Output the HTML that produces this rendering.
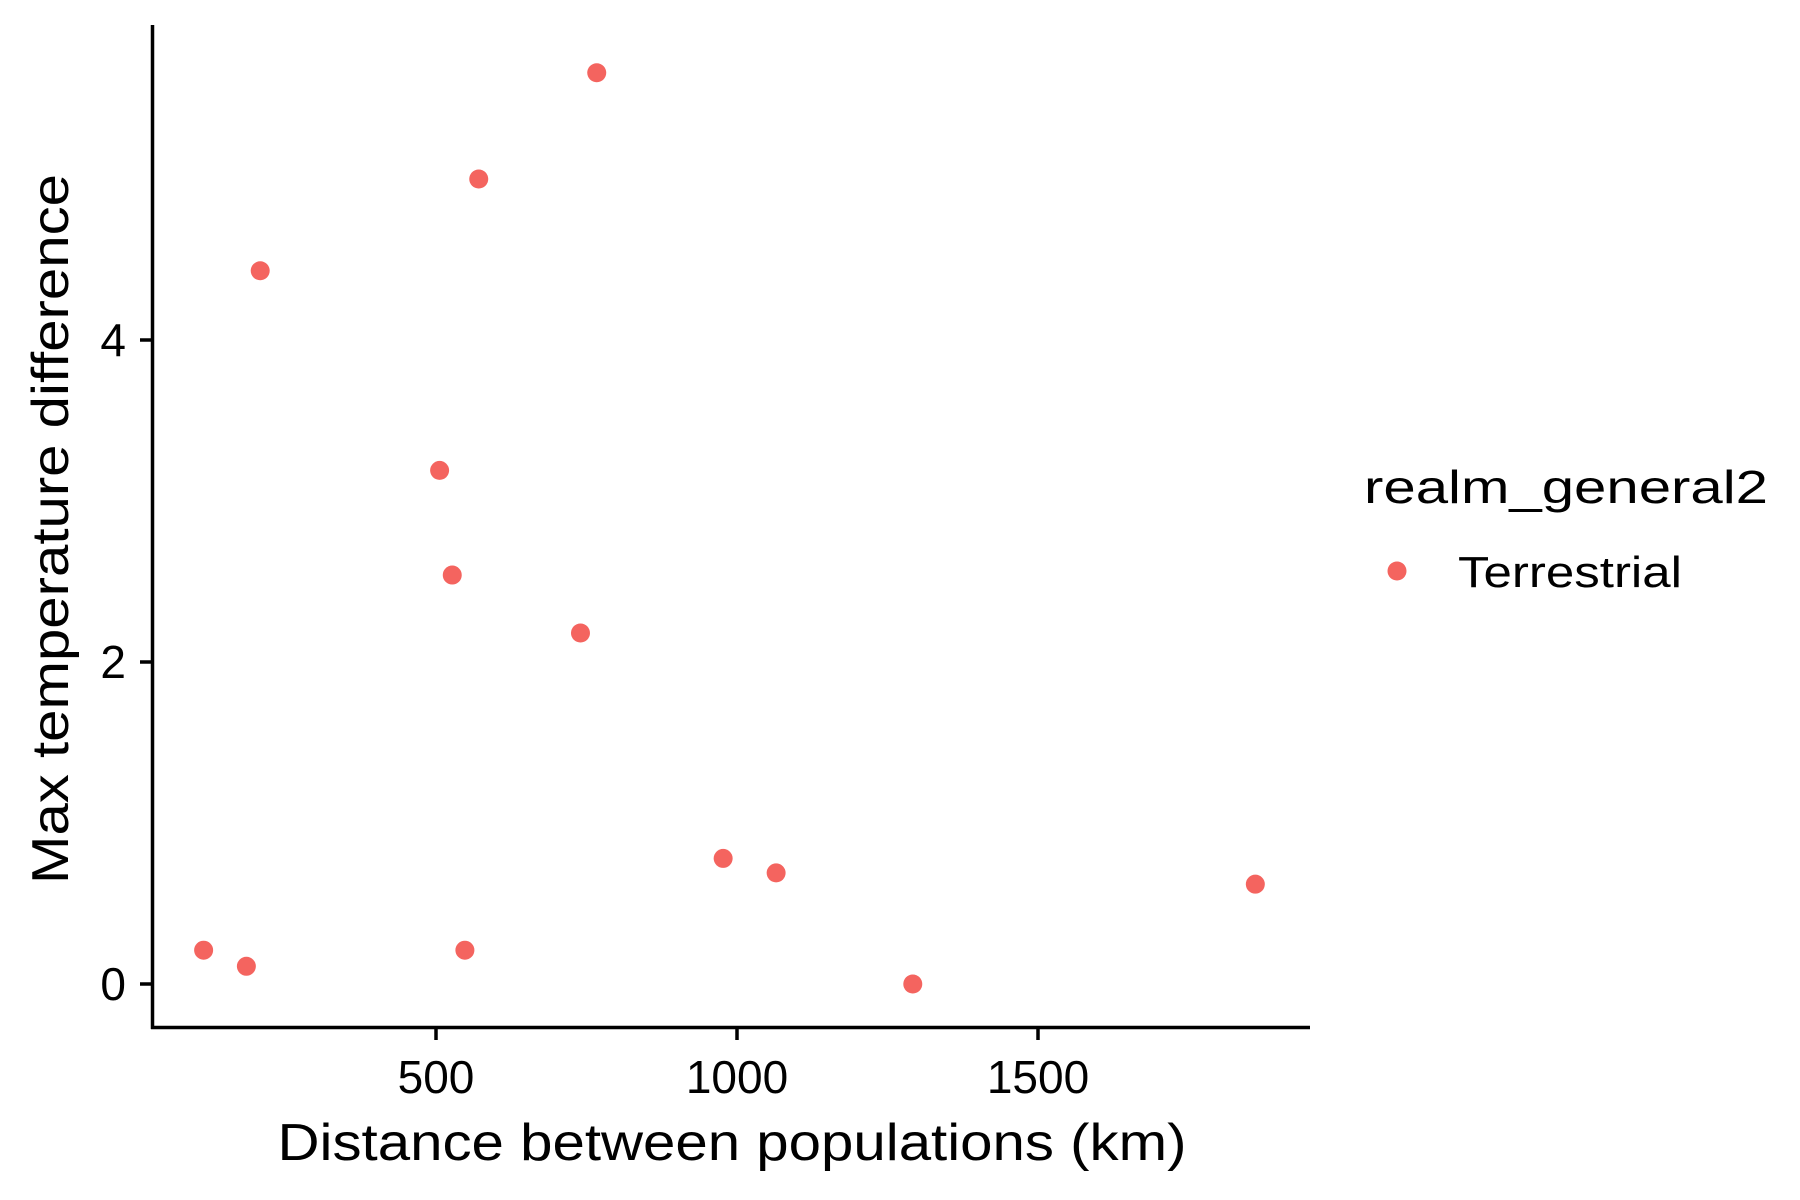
<!DOCTYPE html>
<html><head><meta charset="utf-8"><style>
body{margin:0;background:#fff}
svg{display:block;font-family:"Liberation Sans",Arial,sans-serif}
</style></head><body>
<svg id="chart" width="1800" height="1200" viewBox="0 0 1800 1200">
<rect width="1800" height="1200" fill="#fff"/>
<g id="pts"></g>
<g id="axes"></g>
<text x="732" y="1160" font-size="52" text-anchor="middle" textLength="909" lengthAdjust="spacingAndGlyphs">Distance between populations (km)</text>
<text transform="translate(68,529) rotate(-90)" font-size="52" text-anchor="middle" textLength="710" lengthAdjust="spacingAndGlyphs">Max temperature difference</text>
<text x="1364" y="503" font-size="46" textLength="404" lengthAdjust="spacingAndGlyphs">realm_general2</text>
<circle cx="1397" cy="571" r="9.5" fill="#F4645F"/>
<text x="1458" y="587" font-size="44" textLength="224" lengthAdjust="spacingAndGlyphs">Terrestrial</text>
</svg>
<script>
const xs=[114,185,208,506,527,548,571,740,767,977,1065,1292,1861];
const ys=[0.21,0.11,4.43,3.19,2.54,0.21,5.0,2.18,5.66,0.78,0.69,0.0,0.62];
const xTicks=[500,1000,1500];
const yTicks=[0,2,4];
const NS="http://www.w3.org/2000/svg";
const X=v=>436+(v-500)*(301/500);
const Y=v=>984-v*161;
const pts=document.getElementById('pts');
xs.forEach((x,i)=>{
 const c=document.createElementNS(NS,'circle');
 c.setAttribute('cx',X(x));c.setAttribute('cy',Y(ys[i]));c.setAttribute('r',9.5);c.setAttribute('fill','#F4645F');
 
 
 pts.appendChild(c);
});
const ax=document.getElementById('axes');
function line(x1,y1,x2,y2,name){
 const l=document.createElementNS(NS,'line');
 l.setAttribute('x1',x1);l.setAttribute('y1',y1);l.setAttribute('x2',x2);l.setAttribute('y2',y2);
 l.setAttribute('stroke','#000');l.setAttribute('stroke-width',3.5);
 
 
 ax.appendChild(l);
}
function text(x,y,s,anchor,name){
 const t=document.createElementNS(NS,'text');
 t.setAttribute('x',x);t.setAttribute('y',y);t.setAttribute('font-size',46);t.setAttribute('text-anchor',anchor);t.setAttribute('fill','#000');
 t.textContent=s;
 
 
 ax.appendChild(t);
}
line(152.5,25,152.5,1029,'y-axis-line');
line(151,1027.5,1310,1027.5,'x-axis-line');
xTicks.forEach(v=>{line(X(v),1027.5,X(v),1040,'x-tick');text(X(v),1093,String(v),'middle','x-tick-label');});
yTicks.forEach(v=>{line(140,Y(v),152.5,Y(v),'y-tick');text(126,Y(v)+16,String(v),'end','y-tick-label');});
</script>
</body></html>
